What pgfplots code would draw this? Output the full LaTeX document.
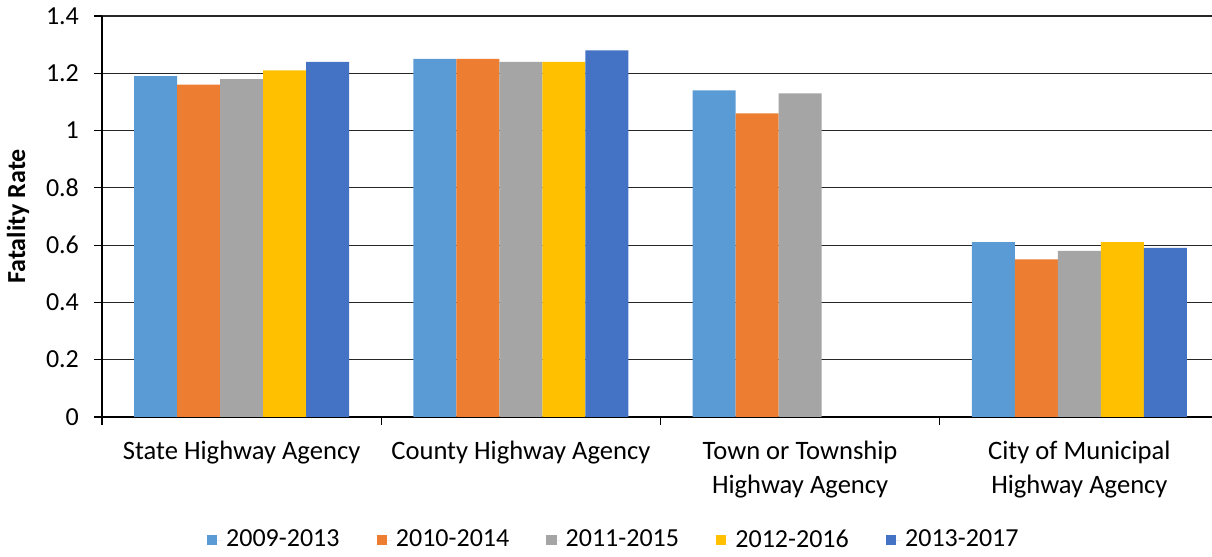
\documentclass[border=0pt]{standalone}
\usepackage{fontspec}
\setmainfont{Carlito}
\usepackage{pgfplots}
\pgfplotsset{compat=1.18}
\usetikzlibrary{calc}

\definecolor{sA}{HTML}{5B9BD5}
\definecolor{sB}{HTML}{ED7D31}
\definecolor{sC}{HTML}{A5A5A5}
\definecolor{sD}{HTML}{FFC000}
\definecolor{sE}{HTML}{4472C4}

\newcommand{\ff}{\fontsize{13}{17}\selectfont}
\newcommand{\fc}{\fontsize{13.3}{17}\selectfont}

\begin{document}
\begin{tikzpicture}
\begin{axis}[
  name=ax,
  scale only axis,
  width=558.6pt, height=200.5pt,
  ybar=0pt, bar width=0.154,
  xmin=-0.5, xmax=3.5, ymin=0, ymax=1.4,
  axis x line*=bottom, axis y line*=left,
  axis line style={black, line width=0.6pt},
  ytick={0,0.2,0.4,0.6,0.8,1,1.2,1.4},
  ymajorgrids, grid style={black!85, line width=0.6pt},
  xtick={-0.5,0.5,1.5,2.5,3.5},
  x tick label as interval,
  xticklabels={State Highway Agency, County Highway Agency,
    {Town or Township\\Highway Agency}, {City of Municipal\\Highway Agency}},
  tick align=outside, major tick length=4pt,
  tick style={black, line width=0.6pt},
  xticklabel style={align=center, font=\fc, yshift=-4.5pt},
  yticklabel style={font=\ff, xshift=-4pt},
  /pgf/number format/assume math mode=true,
  /pgf/number format/fixed,
  ylabel={Fatality Rate},
  every axis y label/.style={at={(axis description cs:-0.0752,0.5)},
    rotate=90, anchor=center, font=\bfseries\ff},
  legend columns=5,
  legend style={at={(0.459,-0.307)}, anchor=center, draw=none, font=\ff,
    /tikz/every even column/.append style={column sep=16.5pt}},
  legend image code/.code={\fill[#1] (0pt,-2.6pt) rectangle (5.2pt,2.6pt);
    \path (0pt,0pt) -- (7.7pt,0pt);},
]
\addplot[fill=sA, draw=none] coordinates {(0,1.19) (1,1.25) (2,1.14) (3,0.61)};
\addlegendentry{2009-2013}
\addplot[fill=sB, draw=none] coordinates {(0,1.16) (1,1.25) (2,1.06) (3,0.55)};
\addlegendentry{2010-2014}
\addplot[fill=sC, draw=none] coordinates {(0,1.18) (1,1.24) (2,1.13) (3,0.58)};
\addlegendentry{2011-2015}
\addplot[fill=sD, draw=none] coordinates {(0,1.21) (1,1.24) (3,0.61)};
\addlegendentry{2012-2016}
\addplot[fill=sE, draw=none] coordinates {(0,1.24) (1,1.28) (3,0.59)};
\addlegendentry{2013-2017}
\end{axis}
\pgfresetboundingbox
\path[use as bounding box] ($(ax.south west)+(-51pt,-70pt)$) rectangle ($(ax.north east)+(-3.5pt,8pt)$);
\end{tikzpicture}
\end{document}
